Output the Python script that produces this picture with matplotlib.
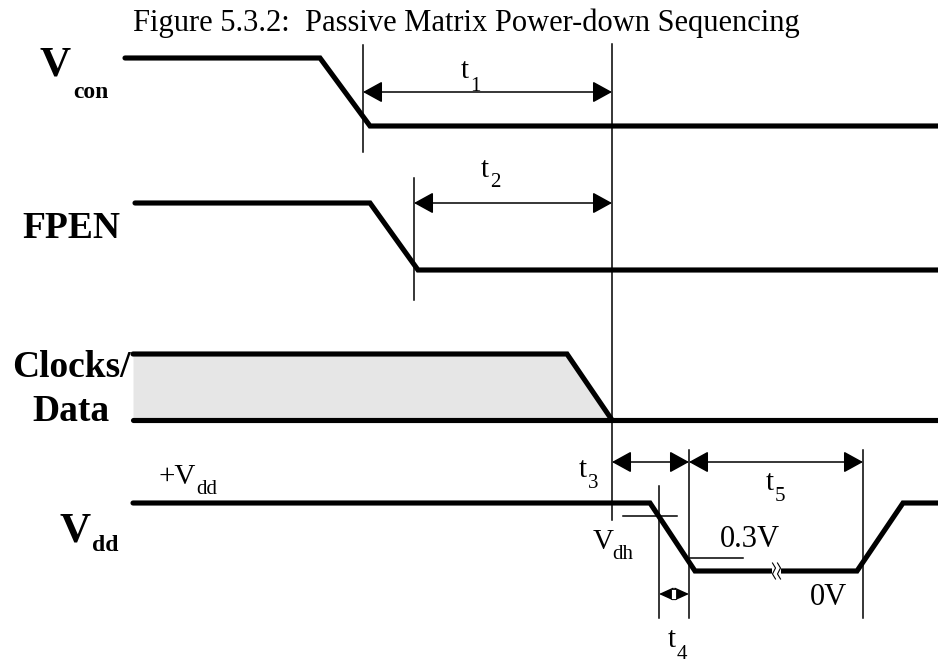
import matplotlib
matplotlib.use("Agg")
import matplotlib.pyplot as plt
from matplotlib.patches import Rectangle

plt.rcParams['font.family'] = ['Liberation Serif', 'DejaVu Serif']

# ---- waveform data (time breakpoints, levels) ----
title = "Figure 5.3.2:  Passive Matrix Power-down Sequencing"

vcon_t = [125, 320, 370, 938]
vcon_v = [58, 58, 126, 126]

fpen_t = [135, 370, 418, 938]
fpen_v = [203, 203, 270, 270]

clk_top_t = [133, 567, 612]
clk_top_v = [354, 354, 420]
clk_bot_t = [133, 938]
clk_bot_v = [420, 420]

vdd_t = [133, 650, 695, 857, 903, 938]
vdd_v = [503, 503, 571, 571, 503, 503]

# timing markers: x, y_top, y_bottom
marker_x = [363, 414, 612, 659, 689, 863]
marker_top = [45, 178, 44, 486, 450, 450]
marker_bot = [152, 300, 520, 618, 618, 618]

# threshold ticks: y, x_start, x_end
thr_y = [516, 558]
thr_x0 = [623, 690]
thr_x1 = [677, 743]

# timing arrows
arrow_x0 = [363, 414, 612, 689, 659]
arrow_x1 = [612, 612, 689, 863, 689]
arrow_y = [92, 203, 462, 462, 594]

# text labels: (base, subscript)
timing_names = ["t", "t", "t", "t", "t"]
timing_subs = ["1", "2", "3", "5", "4"]
signal_names = ["V", "FPEN", "Clocks/", "Data", "V"]
signal_subs = ["con", "", "", "", "dd"]
level_names = ["+V", "V", "0.3V", "0V"]
level_subs = ["dd", "dh", "", ""]

# label layout: (x_left, baseline, sub_x_left, sub_baseline)
timing_pos = [(461, 78, 470, 91), (481, 177, 490, 187), (579, 477, 588, 488),
              (766, 490, 775, 501), (668, 647, 677, 659)]
signal_pos = [(40, 76, 73, 98), (22, 238, 0, 0), (12, 377, 0, 0),
              (32, 421, 0, 0), (60, 541, 92, 551)]
level_pos = [(158, 484, 196, 494), (593, 549, 612, 559), (720, 547, 0, 0),
             (810, 605, 0, 0)]

fig = plt.figure(figsize=(9.38, 6.63), dpi=100)
ax = fig.add_axes([0, 0, 1, 1])
ax.set_xlim(0, 938)
ax.set_ylim(663, 0)
ax.axis('off')

THICK = 3.7
THIN = 1.1

# grey bus fill
ax.fill_between(clk_top_t, clk_top_v, [420] * len(clk_top_t), color='#e6e6e6', lw=0, zorder=1)

for t, v in [(vcon_t, vcon_v), (fpen_t, fpen_v), (clk_top_t, clk_top_v),
             (clk_bot_t, clk_bot_v), (vdd_t, vdd_v)]:
    ax.plot(t, v, color='black', lw=THICK, solid_capstyle='round',
            solid_joinstyle='miter', zorder=3)

for x, y0, y1 in zip(marker_x, marker_top, marker_bot):
    ax.plot([x, x], [y0, y1], color='black', lw=THIN, zorder=2)

for y, x0, x1 in zip(thr_y, thr_x0, thr_x1):
    ax.plot([x0, x1], [y, y], color='black', lw=THIN, zorder=2)

# break mark on Vdd low level
ax.fill_between([772, 781], [565, 565], [577, 577], color='white', zorder=4, lw=0)
for bx in [774, 779]:
    ax.plot([bx - 1.5, bx + 1.5, bx - 1.5, bx + 1.5], [563, 568, 574, 579],
            color='black', lw=0.8, zorder=5)

for x0, x1, y in zip(arrow_x0, arrow_x1, arrow_y):
    if x1 - x0 < 40:
        style = '<|-|>,head_length=1.1,head_width=0.5'
        ms = 8
    else:
        style = '<|-|>,head_length=1.0,head_width=0.55'
        ms = 12
    ax.annotate('', xy=(x1, y), xytext=(x0, y),
                arrowprops=dict(arrowstyle=style, mutation_scale=ms, color='black',
                                lw=THIN, shrinkA=0, shrinkB=0), zorder=6)
# small marker box on t4 arrow
ax.add_patch(Rectangle((671, 589), 5, 10, facecolor='white', edgecolor='black',
                       lw=0.6, zorder=7))


def label(base, sub, pos, size, subsize, weight='normal'):
    x, y, sx, sy = pos
    ax.text(x, y, base, fontsize=size, fontweight=weight, ha='left', va='baseline')
    if sub:
        ax.text(sx, sy, sub, fontsize=subsize, fontweight=weight, ha='left', va='baseline')


for b, s, p in zip(timing_names, timing_subs, timing_pos):
    label(b, s, p, 21, 15)

for b, s, p in zip(signal_names, signal_subs, signal_pos):
    if s:
        label(b, s, p, 31, 17, 'bold')
    else:
        label(b, s, p, 27, 17, 'bold')

for b, s, p in zip(level_names, level_subs, level_pos):
    label(b, s, p, 22 if not s else 21, 15)

ax.text(133, 31, title, fontsize=22, ha='left', va='baseline')

fig.savefig("out.png", dpi=100)
